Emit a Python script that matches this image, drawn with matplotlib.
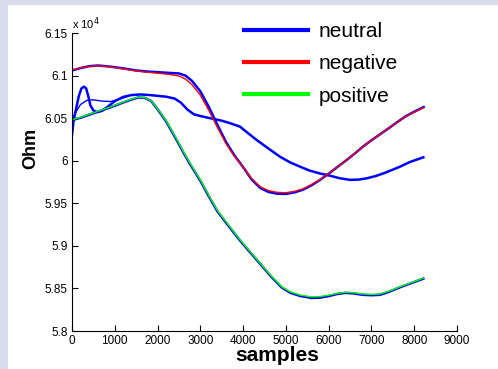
import numpy as np
import matplotlib
matplotlib.use("Agg")
from matplotlib import pyplot as plt
from matplotlib.patches import Rectangle

# сопротивление (Ом) по отсчётам
neg_x = [0, 200, 400, 600, 800, 1000, 1250, 1500, 1750, 2000, 2250, 2500, 2650, 2800, 3000, 3200, 3400,
         3600, 3800, 4000, 4200, 4400, 4600, 4800, 5000, 5200, 5400, 5600, 5800, 6000, 6200, 6400, 6600,
         6800, 7000, 7200, 7400, 7600, 7800, 8000, 8221]
neg_y = [61065, 61090, 61108, 61115, 61108, 61095, 61075, 61055, 61040, 61028, 61015, 60995, 60960, 60895,
         60770, 60590, 60390, 60200, 60050, 59925, 59790, 59695, 59648, 59628, 59624, 59640, 59670, 59720,
         59780, 59850, 59925, 60000, 60080, 60165, 60240, 60310, 60380, 60450, 60520, 60570, 60625]

pos_x = [0, 200, 400, 600, 800, 1000, 1200, 1400, 1550, 1700, 1850, 2000, 2200, 2450, 2600, 2760, 3000,
         3200, 3400, 3650, 3930, 4150, 4400, 4650, 4900, 5100, 5330, 5600, 5800, 6000, 6200, 6400, 6570,
         6800, 7000, 7200, 7400, 7670, 8000, 8213]
pos_y = [60480, 60510, 60545, 60580, 60615, 60650, 60690, 60725, 60745, 60740, 60705, 60610, 60470, 60250,
         60110, 59970, 59775, 59590, 59415, 59250, 59070, 58940, 58795, 58650, 58520, 58460, 58423, 58400,
         58405, 58420, 58442, 58455, 58450, 58435, 58430, 58435, 58465, 58520, 58580, 58620]

# нейтральные записи
neu1_x = neg_x
neu1_y = [61060, 61088, 61110, 61118, 61110, 61098, 61080, 61060, 61048, 61040, 61032, 61025, 61000, 60940,
          60815, 60630, 60420, 60220, 60060, 59925, 59780, 59680, 59632, 59612, 59610, 59628, 59660, 59712,
          59775, 59848, 59925, 60000, 60080, 60165, 60240, 60310, 60380, 60452, 60522, 60575, 60630]

neu2_x = pos_x
neu2_y = [60476, 60505, 60540, 60575, 60610, 60645, 60685, 60720, 60742, 60738, 60702, 60605, 60462, 60240,
          60100, 59960, 59765, 59580, 59405, 59240, 59062, 58932, 58788, 58642, 58512, 58450, 58412, 58388,
          58392, 58410, 58435, 58448, 58442, 58425, 58420, 58425, 58458, 58514, 58575, 58615]

neu3_x = [0, 40, 100, 160, 220, 280, 330, 380, 430, 500, 580, 700, 850, 1000, 1200, 1400, 1600, 1800, 2000,
          2200, 2400, 2550, 2700, 2850, 3000, 3265, 3500, 3700, 3927, 4100, 4317, 4600, 4862, 5100, 5330,
          5550, 5797, 6000, 6250, 6498, 6700, 6888, 7100, 7300, 7500, 7667, 7900, 8213]
neu3_y = [60300, 60480, 60620, 60760, 60850, 60870, 60850, 60760, 60650, 60590, 60570, 60585, 60640, 60700,
          60750, 60772, 60778, 60772, 60762, 60752, 60730, 60680, 60600, 60545, 60525, 60495, 60470, 60440,
          60400, 60330, 60243, 60140, 60047, 59980, 59930, 59885, 59850, 59828, 59795, 59775, 59778, 59793,
          59820, 59855, 59895, 59930, 59985, 60040]

neu4_x = [0, 100, 200, 350, 500, 700, 900, 1100, 1300]
neu4_y = [60480, 60580, 60660, 60710, 60715, 60700, 60695, 60720, 60755]

fig = plt.figure(figsize=(4.98, 3.69), dpi=100, facecolor="#d6dcea")
fig.patches.append(Rectangle((8 / 498, 0), 1, 1 - 5 / 369, transform=fig.transFigure,
                             facecolor="white", edgecolor="none", zorder=-5))
ax = fig.add_axes([72 / 498, 38 / 369, 385 / 498, 298 / 369])
ax.set_facecolor("white")

ax.plot(np.array(neu1_x), np.array(neu1_y) / 1e4, color="blue", lw=1.8, label="neutral")
ax.plot(np.array(neu2_x), np.array(neu2_y) / 1e4, color="blue", lw=1.8)
ax.plot(np.array(neu3_x), np.array(neu3_y) / 1e4, color="blue", lw=1.8)
ax.plot(np.array(neu4_x), np.array(neu4_y) / 1e4, color="blue", lw=1.0)
ax.plot(np.array(neg_x), np.array(neg_y) / 1e4, color="red", lw=1.0, label="negative")
ax.plot(np.array(pos_x), np.array(pos_y) / 1e4, color="lime", lw=1.0, label="positive")

ax.set_xlim(0, 9000)
ax.set_ylim(5.8, 6.15)
ax.set_xticks(np.arange(0, 9001, 1000))
ax.set_yticks([5.8, 5.85, 5.9, 5.95, 6.0, 6.05, 6.1, 6.15])
ax.set_yticklabels(["5.8", "5.85", "5.9", "5.95", "6", "6.05", "6.1", "6.15"])
ax.spines["top"].set_visible(False)
ax.spines["right"].set_visible(False)
ax.tick_params(direction="in", length=4, labelsize=8.5, pad=3)
for lab in ax.get_xticklabels() + ax.get_yticklabels():
    lab.set_family("Liberation Sans")

ax.text(0.0, 1.015, "x 10$^{4}$", transform=ax.transAxes, fontsize=8, family="Liberation Sans")
ax.set_xlabel("samples", fontsize=15, fontweight="bold", family="Liberation Sans")
ax.xaxis.set_label_coords(0.532, -0.05)
ax.set_ylabel("Ohm", fontsize=13, fontweight="bold", family="Liberation Sans")
ax.yaxis.set_label_coords(-0.086, 0.614)

leg = ax.legend(loc="upper left", bbox_to_anchor=(0.397, 1.1), frameon=False, handlelength=3.1,
                handletextpad=0.5, labelspacing=0.64, prop={"family": "Liberation Sans", "size": 15})
for h in leg.get_lines():
    h.set_linewidth(3)

fig.savefig("out.png", dpi=100, facecolor=fig.get_facecolor())
